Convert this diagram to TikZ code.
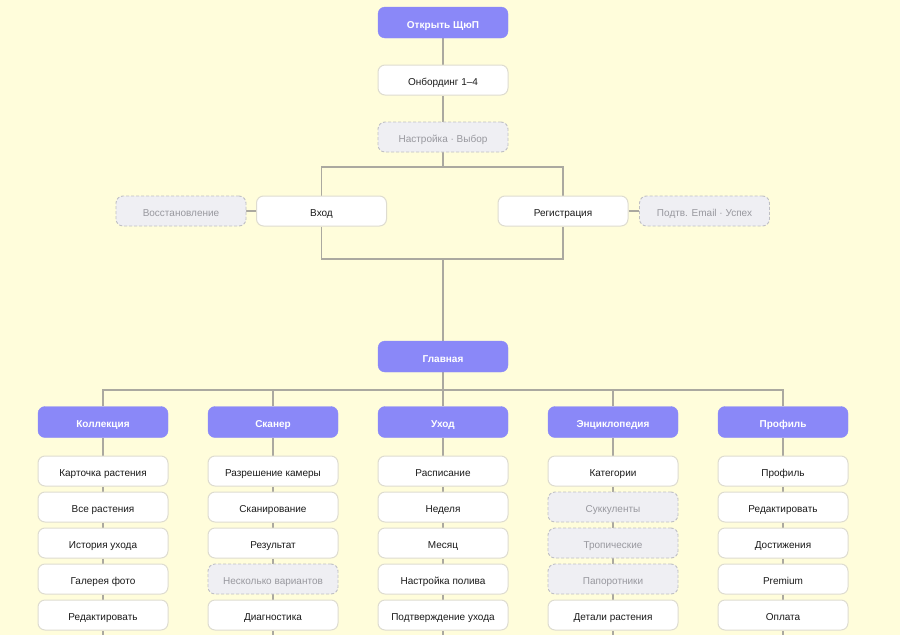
\documentclass[tikz,border=0pt]{standalone}
\usepackage{fontspec}
\setmainfont{Liberation Sans}
\usetikzlibrary{backgrounds}
\definecolor{bgc}{HTML}{FFFDDB}
\definecolor{purp}{HTML}{8A88F8}
\definecolor{linec}{HTML}{ABA9A0}
\definecolor{boxb}{HTML}{DEDCD0}
\definecolor{dashf}{HTML}{EFEFF3}
\definecolor{dashb}{HTML}{BFBFC4}
\definecolor{dasht}{HTML}{98989E}
\definecolor{txt}{HTML}{1A1A1A}
\begin{document}
\begin{tikzpicture}[x=1pt,y=-1pt,
  base/.style={rounded corners=7pt, minimum width=130pt, minimum height=30pt, inner sep=0pt, text height=11pt, text depth=0pt, font=\fontsize{10}{12}\selectfont},
  head/.style={base, fill=purp, draw=purp, text=white, font=\fontsize{10}{12}\selectfont\bfseries, minimum height=31pt},
  item/.style={base, fill=white, draw=boxb, line width=1pt, text=txt},
  opt/.style={base, fill=dashf, draw=dashb, dash pattern=on 3pt off 2pt, line width=0.9pt, text=dasht},
  conn/.style={draw=linec, line width=1.5pt}]
\useasboundingbox (0,0) rectangle (900,635);
\begin{scope}[on background layer]
  \fill[bgc] (0,0) rectangle (900,635);
\end{scope}

% top flow
\node[head] (open) at (443,22.5) {Открыть ЩюП};
\node[item] (onb) at (443,80) {Онбординг 1–4};
\node[opt] (nast) at (443,137) {Настройка · Выбор};
\node[item] (vhod) at (321.5,211) {Вход};
\node[item] (reg) at (563,211) {Регистрация};
\node[opt] (vost) at (181,211) {Восстановление};
\node[opt] (podtv) at (704.5,211) {Подтв. Email · Успех};
\node[head] (glav) at (443,356.5) {Главная};
\coordinate (j1) at (443,167);
\coordinate (j2) at (443,259);
\coordinate (j3) at (443,390);

% columns
\foreach \n/\x/\t/\a/\b/\c/\d/\e/\sa/\sb/\sc/\sd/\se in {
  kol/103/Коллекция/Карточка растения/Все растения/История ухода/Галерея фото/Редактировать/item/item/item/item/item,
  sk/273/Сканер/Разрешение камеры/Сканирование/Результат/Несколько вариантов/Диагностика/item/item/item/opt/item,
  uh/443/Уход/Расписание/Неделя/Месяц/Настройка полива/Подтверждение ухода/item/item/item/item/item,
  enc/613/Энциклопедия/Категории/Суккуленты/Тропические/Папоротники/Детали растения/item/opt/opt/opt/item,
  pr/783/Профиль/Профиль/Редактировать/Достижения/Premium/Оплата/item/item/item/item/item}{
  \node[head] (\n) at (\x,422) {\t};
  \node[\sa] (\n1) at (\x,471) {\a};
  \node[\sb] (\n2) at (\x,507) {\b};
  \node[\sc] (\n3) at (\x,543) {\c};
  \node[\sd] (\n4) at (\x,579) {\d};
  \node[\se] (\n5) at (\x,615) {\e};
  \coordinate (\n end) at (\x,635);
  \begin{scope}[on background layer]
    \draw[conn] (\n) -- (\n1) -- (\n2) -- (\n3) -- (\n4) -- (\n5) -- (\n end);
    \draw[conn] (j3) -| (\n);
  \end{scope}
}

\begin{scope}[on background layer]
  \draw[conn] (open) -- (onb);
  \draw[conn] (onb) -- (nast);
  \draw[conn] (nast) -- (j1);
  \draw[conn] (j1) -| (vhod);
  \draw[conn] (j1) -| (reg);
  \draw[conn] (vhod) |- (j2);
  \draw[conn] (reg) |- (j2);
  \draw[conn] (j2) -- (glav);
  \draw[conn] (glav) -- (j3);
  \draw[conn] (vost) -- (vhod);
  \draw[conn] (reg) -- (podtv);
\end{scope}
\end{tikzpicture}
\end{document}
